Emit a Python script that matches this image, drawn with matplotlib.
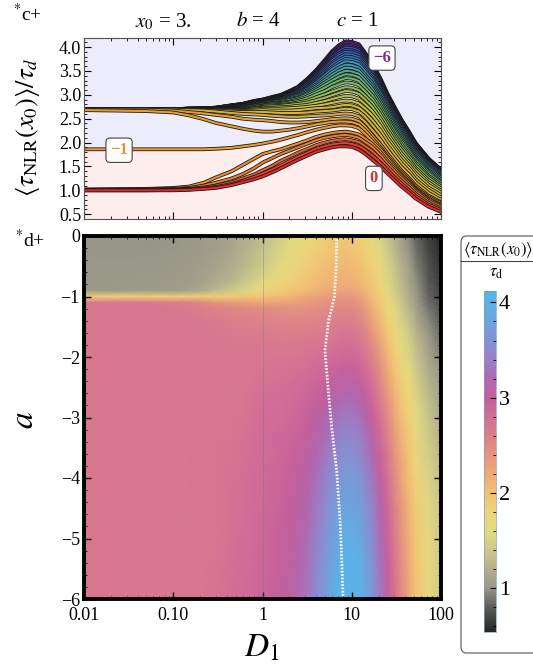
import matplotlib
matplotlib.use("Agg")
import matplotlib.pyplot as plt
import matplotlib.patheffects as pe
import numpy as np
from matplotlib.colors import LinearSegmentedColormap
from matplotlib.lines import Line2D
from matplotlib.patches import FancyBboxPatch
from matplotlib.ticker import FixedLocator, LogLocator, MultipleLocator, NullFormatter

plt.rcParams["font.family"] = ["Liberation Serif", "DejaVu Serif"]
plt.rcParams["mathtext.fontset"] = "stix"

# ---- data ----
D1_VALUES = [0.01, 0.05, 0.1, 0.15, 0.22, 0.3, 0.45, 0.6, 0.8, 1, 1.3, 1.6, 2, 2.5, 3.2, 4,
             5, 6, 7.2, 8.5, 10, 12, 14, 17, 21, 25, 30, 36, 44, 52, 72, 100]

# a between 0 and -1
A_SHALLOW = [0, -0.25, -0.5, -0.75, -0.9, -1.0]
TAU_SHALLOW = [
    [1.00, 1.00, 1.00, 1.01, 1.03, 1.05, 1.11, 1.17, 1.23, 1.29, 1.38, 1.46, 1.55, 1.64, 1.73, 1.81, 1.86, 1.90, 1.92, 1.92, 1.91, 1.85, 1.77, 1.64, 1.50, 1.36, 1.22, 1.08, 0.95, 0.83, 0.66, 0.55],
    [1.00, 1.00, 1.01, 1.02, 1.04, 1.07, 1.13, 1.20, 1.28, 1.35, 1.44, 1.52, 1.61, 1.70, 1.79, 1.87, 1.92, 1.96, 1.98, 1.99, 1.97, 1.93, 1.85, 1.73, 1.58, 1.43, 1.28, 1.14, 1.00, 0.88, 0.70, 0.59],
    [1.01, 1.01, 1.02, 1.03, 1.06, 1.10, 1.17, 1.25, 1.33, 1.42, 1.52, 1.62, 1.70, 1.79, 1.87, 1.95, 2.00, 2.04, 2.06, 2.07, 2.05, 2.01, 1.93, 1.82, 1.66, 1.50, 1.35, 1.20, 1.06, 0.93, 0.74, 0.62],
    [1.01, 1.02, 1.03, 1.05, 1.10, 1.16, 1.25, 1.34, 1.46, 1.58, 1.68, 1.76, 1.83, 1.90, 1.98, 2.05, 2.10, 2.13, 2.15, 2.16, 2.14, 2.10, 2.02, 1.91, 1.74, 1.57, 1.41, 1.26, 1.11, 0.98, 0.78, 0.66],
    [1.02, 1.03, 1.05, 1.08, 1.16, 1.27, 1.40, 1.53, 1.66, 1.76, 1.82, 1.86, 1.92, 1.98, 2.05, 2.12, 2.17, 2.20, 2.22, 2.23, 2.21, 2.17, 2.09, 1.97, 1.80, 1.62, 1.46, 1.30, 1.15, 1.01, 0.81, 0.68],
    [1.86, 1.86, 1.86, 1.86, 1.86, 1.87, 1.89, 1.92, 1.95, 1.98, 2.02, 2.06, 2.11, 2.16, 2.22, 2.27, 2.31, 2.34, 2.36, 2.36, 2.35, 2.30, 2.19, 2.03, 1.86, 1.68, 1.50, 1.33, 1.18, 1.03, 0.83, 0.70],
]

# a below -1
A_DEEP = [-1.1, -1.2, -1.4, -1.6, -1.8, -2.0, -2.2, -2.4, -2.6, -2.8, -3.0, -3.2, -3.4,
          -3.6, -3.8, -4.0, -4.2, -4.4, -4.6, -4.8, -5.0, -5.2, -5.4, -5.6, -5.8, -6.0]
TAU_DEEP = [
    [2.68, 2.66, 2.63, 2.57, 2.49, 2.41, 2.34, 2.29, 2.25, 2.23, 2.23, 2.25, 2.27, 2.30, 2.34, 2.38, 2.41, 2.43, 2.44, 2.44, 2.43, 2.38, 2.27, 2.09, 1.90, 1.72, 1.54, 1.37, 1.21, 1.06, 0.86, 0.73],
    [2.69, 2.69, 2.67, 2.64, 2.61, 2.58, 2.54, 2.50, 2.48, 2.47, 2.45, 2.43, 2.42, 2.42, 2.43, 2.45, 2.47, 2.49, 2.50, 2.51, 2.50, 2.45, 2.34, 2.15, 1.96, 1.77, 1.59, 1.41, 1.25, 1.10, 0.89, 0.75],
    [2.70, 2.70, 2.69, 2.68, 2.67, 2.65, 2.62, 2.60, 2.59, 2.58, 2.56, 2.55, 2.54, 2.54, 2.55, 2.56, 2.57, 2.58, 2.60, 2.61, 2.60, 2.55, 2.44, 2.26, 2.06, 1.86, 1.67, 1.49, 1.33, 1.17, 0.95, 0.80],
    [2.70, 2.70, 2.70, 2.69, 2.68, 2.67, 2.65, 2.64, 2.64, 2.64, 2.63, 2.62, 2.62, 2.62, 2.63, 2.65, 2.66, 2.67, 2.69, 2.71, 2.70, 2.65, 2.55, 2.37, 2.16, 1.95, 1.76, 1.57, 1.40, 1.23, 1.01, 0.85],
    [2.70, 2.70, 2.70, 2.70, 2.69, 2.68, 2.67, 2.66, 2.67, 2.68, 2.67, 2.67, 2.67, 2.68, 2.70, 2.72, 2.73, 2.74, 2.77, 2.79, 2.78, 2.73, 2.63, 2.47, 2.26, 2.04, 1.84, 1.64, 1.47, 1.30, 1.06, 0.90],
    [2.70, 2.70, 2.70, 2.70, 2.69, 2.69, 2.68, 2.68, 2.69, 2.71, 2.71, 2.71, 2.72, 2.73, 2.75, 2.77, 2.80, 2.83, 2.86, 2.88, 2.87, 2.82, 2.72, 2.57, 2.35, 2.12, 1.91, 1.71, 1.53, 1.36, 1.12, 0.95],
    [2.70, 2.70, 2.70, 2.70, 2.70, 2.69, 2.69, 2.69, 2.71, 2.73, 2.73, 2.74, 2.75, 2.77, 2.79, 2.83, 2.87, 2.91, 2.95, 2.98, 2.97, 2.92, 2.81, 2.66, 2.43, 2.20, 1.98, 1.78, 1.59, 1.42, 1.17, 0.99],
    [2.70, 2.70, 2.70, 2.70, 2.70, 2.70, 2.70, 2.70, 2.72, 2.75, 2.76, 2.77, 2.79, 2.81, 2.84, 2.89, 2.94, 2.99, 3.04, 3.08, 3.07, 3.02, 2.91, 2.75, 2.51, 2.28, 2.05, 1.85, 1.65, 1.47, 1.22, 1.04],
    [2.70, 2.70, 2.70, 2.70, 2.70, 2.70, 2.70, 2.71, 2.74, 2.77, 2.78, 2.79, 2.81, 2.84, 2.88, 2.95, 3.01, 3.07, 3.12, 3.16, 3.15, 3.10, 2.99, 2.83, 2.59, 2.36, 2.12, 1.91, 1.71, 1.53, 1.27, 1.08],
    [2.70, 2.70, 2.70, 2.70, 2.70, 2.70, 2.71, 2.72, 2.75, 2.78, 2.80, 2.81, 2.84, 2.87, 2.93, 3.01, 3.08, 3.16, 3.22, 3.26, 3.25, 3.20, 3.08, 2.91, 2.66, 2.43, 2.18, 1.97, 1.76, 1.58, 1.31, 1.12],
    [2.70, 2.70, 2.70, 2.70, 2.70, 2.70, 2.71, 2.73, 2.77, 2.80, 2.82, 2.83, 2.86, 2.90, 2.97, 3.06, 3.15, 3.23, 3.30, 3.35, 3.34, 3.29, 3.16, 2.99, 2.73, 2.50, 2.25, 2.03, 1.82, 1.63, 1.36, 1.16],
    [2.70, 2.70, 2.70, 2.70, 2.70, 2.71, 2.72, 2.74, 2.78, 2.81, 2.83, 2.85, 2.89, 2.93, 3.01, 3.10, 3.21, 3.30, 3.38, 3.43, 3.42, 3.37, 3.24, 3.06, 2.80, 2.56, 2.30, 2.08, 1.86, 1.67, 1.40, 1.19],
    [2.70, 2.70, 2.70, 2.70, 2.70, 2.71, 2.73, 2.75, 2.79, 2.82, 2.85, 2.87, 2.91, 2.95, 3.04, 3.14, 3.26, 3.36, 3.45, 3.50, 3.49, 3.44, 3.31, 3.13, 2.86, 2.62, 2.36, 2.13, 1.90, 1.71, 1.43, 1.23],
    [2.70, 2.70, 2.70, 2.70, 2.70, 2.71, 2.73, 2.76, 2.80, 2.83, 2.86, 2.88, 2.93, 2.98, 3.07, 3.18, 3.31, 3.42, 3.51, 3.57, 3.56, 3.51, 3.37, 3.19, 2.92, 2.68, 2.41, 2.18, 1.94, 1.75, 1.47, 1.26],
    [2.70, 2.70, 2.70, 2.70, 2.71, 2.71, 2.74, 2.77, 2.81, 2.84, 2.87, 2.90, 2.95, 3.00, 3.10, 3.22, 3.36, 3.48, 3.57, 3.63, 3.62, 3.57, 3.43, 3.25, 2.97, 2.73, 2.46, 2.22, 1.98, 1.79, 1.50, 1.29],
    [2.70, 2.70, 2.70, 2.70, 2.71, 2.71, 2.74, 2.77, 2.82, 2.85, 2.88, 2.91, 2.96, 3.02, 3.13, 3.26, 3.41, 3.54, 3.63, 3.70, 3.69, 3.64, 3.50, 3.31, 3.03, 2.78, 2.50, 2.26, 2.02, 1.82, 1.53, 1.31],
    [2.70, 2.70, 2.70, 2.70, 2.71, 2.71, 2.75, 2.78, 2.83, 2.86, 2.89, 2.92, 2.98, 3.04, 3.15, 3.29, 3.44, 3.58, 3.68, 3.75, 3.74, 3.69, 3.55, 3.36, 3.07, 2.82, 2.54, 2.30, 2.05, 1.85, 1.56, 1.34],
    [2.70, 2.70, 2.70, 2.70, 2.71, 2.71, 2.75, 2.78, 2.83, 2.86, 2.90, 2.93, 2.99, 3.06, 3.17, 3.32, 3.48, 3.63, 3.73, 3.80, 3.79, 3.74, 3.60, 3.41, 3.11, 2.86, 2.58, 2.33, 2.08, 1.88, 1.58, 1.36],
    [2.70, 2.70, 2.70, 2.70, 2.71, 2.72, 2.76, 2.79, 2.84, 2.87, 2.91, 2.94, 3.01, 3.08, 3.20, 3.35, 3.52, 3.67, 3.78, 3.85, 3.84, 3.79, 3.65, 3.46, 3.15, 2.89, 2.61, 2.36, 2.10, 1.90, 1.60, 1.38],
    [2.70, 2.70, 2.70, 2.71, 2.71, 2.72, 2.76, 2.79, 2.84, 2.87, 2.92, 2.95, 3.02, 3.09, 3.22, 3.38, 3.56, 3.72, 3.83, 3.90, 3.89, 3.84, 3.69, 3.50, 3.19, 2.92, 2.64, 2.39, 2.13, 1.92, 1.62, 1.39],
    [2.70, 2.70, 2.70, 2.71, 2.71, 2.72, 2.77, 2.80, 2.85, 2.88, 2.93, 2.96, 3.03, 3.11, 3.25, 3.41, 3.59, 3.75, 3.87, 3.94, 3.93, 3.88, 3.73, 3.54, 3.22, 2.95, 2.67, 2.41, 2.15, 1.94, 1.63, 1.40],
    [2.70, 2.70, 2.70, 2.71, 2.71, 2.72, 2.77, 2.80, 2.85, 2.88, 2.93, 2.97, 3.04, 3.12, 3.26, 3.43, 3.62, 3.79, 3.91, 3.99, 3.98, 3.93, 3.77, 3.57, 3.25, 2.97, 2.69, 2.43, 2.17, 1.95, 1.64, 1.41],
    [2.70, 2.70, 2.70, 2.71, 2.72, 2.73, 2.77, 2.80, 2.86, 2.89, 2.94, 2.98, 3.05, 3.14, 3.28, 3.46, 3.65, 3.82, 3.94, 4.02, 4.01, 3.96, 3.80, 3.60, 3.28, 2.99, 2.71, 2.45, 2.19, 1.96, 1.65, 1.42],
    [2.70, 2.70, 2.70, 2.71, 2.72, 2.73, 2.78, 2.81, 2.86, 2.89, 2.94, 2.98, 3.06, 3.15, 3.30, 3.48, 3.67, 3.85, 3.97, 4.05, 4.04, 3.99, 3.83, 3.62, 3.30, 3.01, 2.73, 2.46, 2.20, 1.97, 1.66, 1.42],
    [2.70, 2.70, 2.70, 2.71, 2.72, 2.73, 2.78, 2.81, 2.87, 2.90, 2.95, 2.99, 3.07, 3.16, 3.32, 3.50, 3.70, 3.88, 4.01, 4.09, 4.08, 4.03, 3.86, 3.64, 3.32, 3.02, 2.74, 2.47, 2.21, 1.98, 1.66, 1.43],
    [2.70, 2.70, 2.70, 2.71, 2.72, 2.73, 2.78, 2.81, 2.87, 2.90, 2.96, 3.00, 3.08, 3.17, 3.34, 3.52, 3.73, 3.91, 4.04, 4.12, 4.11, 4.06, 3.89, 3.66, 3.34, 3.03, 2.75, 2.48, 2.22, 1.99, 1.67, 1.43],
]

# position of the maximum (white dotted line)
PEAK_A = [0, -0.5, -1.0, -1.2, -1.4, -1.9, -2.6, -3.2, -3.9, -4.7, -5.3, -6.0]
PEAK_D1 = [6.8, 6.7, 6.4, 5.95, 5.5, 5.0, 5.5, 6.0, 6.8, 7.4, 7.7, 8.0]

A_ALL = np.array(A_SHALLOW + A_DEEP)
TAU = np.array(TAU_SHALLOW + TAU_DEEP)
D1 = np.array(D1_VALUES)

# ---- colour maps ----
rainbow = LinearSegmentedColormap.from_list(
    "mma_rainbow",
    ["#6a1f86", "#3b4fbf", "#3c8fb8", "#6db46c", "#c9c23e", "#eb9a32", "#e0282a"],
)
cb_vals = [0.54, 0.8, 1.0, 1.1, 1.35, 1.6, 1.8, 2.0, 2.2, 2.5, 2.8, 3.0, 3.2, 3.4, 3.7, 4.0, 4.12]
cb_cols = ["#262626", "#5e5e5c", "#9a9888", "#a6a38c", "#c8c48c", "#e2da82", "#eed478",
           "#f2c074", "#eeaa78", "#e08a84", "#d26e96", "#c4609c", "#b068b0", "#9a80c8",
           "#7a9ad8", "#5cb2e8", "#58b4e8"]
vmin, vmax = 0.54, 4.12
dens_cmap = LinearSegmentedColormap.from_list(
    "dens", [((v - vmin) / (vmax - vmin), c) for v, c in zip(cb_vals, cb_cols)]
)

W, H = 533, 666
fig = plt.figure(figsize=(W / 100, H / 100), dpi=100)


def fx(px):
    return px / W


def fy(py):
    return 1 - py / H


# ---- top panel ----
ax1 = fig.add_axes([fx(84), fy(219), fx(357), 181 / H])
ax1.set_facecolor("#ececfa")
ax1.set_xscale("log")
ax1.set_xlim(0.01, 100)
ax1.set_ylim(0.4, 4.19)
ax1.fill_between(D1, 0, TAU[A_ALL == -1.0][0], color="#fdeded", zorder=0, lw=0)

order = np.argsort(A_ALL)  # most negative first, a = 0 drawn last
for i in order:
    a = A_ALL[i]
    ax1.plot(D1, TAU[i], color=rainbow((a + 6) / 6), lw=1.5, zorder=2,
             solid_joinstyle="round",
             path_effects=[pe.Stroke(linewidth=2.7, foreground="#1a1a1a"), pe.Normal()])

box = dict(boxstyle="round,pad=0.25", fc="white", ec="#444444", lw=0.8)
ax1.text(21.8, 3.77, "\u22126", color="#7b2d8e", fontsize=12, fontweight="bold",
         ha="center", va="center", bbox=box, zorder=5)
ax1.text(0.0247, 1.84, "\u22121", color="#e8922e", fontsize=12, fontweight="bold",
         ha="center", va="center", bbox=box, zorder=5)
ax1.text(17.7, 1.25, "0", color="#e0302a", fontsize=12, fontweight="bold",
         ha="center", va="center", bbox=box, zorder=5)

ax1.yaxis.set_major_locator(FixedLocator([0.5, 1.0, 1.5, 2.0, 2.5, 3.0, 3.5, 4.0]))
ax1.yaxis.set_minor_locator(MultipleLocator(0.1))
ax1.set_yticklabels(["0.5", "1.0", "1.5", "2.0", "2.5", "3.0", "3.5", "4.0"])
ax1.xaxis.set_major_locator(FixedLocator([0.01, 0.1, 1, 10, 100]))
ax1.xaxis.set_minor_locator(LogLocator(base=10, subs=np.arange(2, 10)))
ax1.xaxis.set_major_formatter(NullFormatter())
ax1.xaxis.set_minor_formatter(NullFormatter())
ax1.tick_params(which="both", direction="in", top=True, right=True, labelsize=13, pad=2)
ax1.tick_params(which="major", length=5)
ax1.tick_params(which="minor", length=2.5)
for s in ax1.spines.values():
    s.set_color("#555555")
    s.set_linewidth(0.8)

fig.text(fx(28), fy(127), r"$\langle\tau_{\mathrm{NLR}}(x_0)\rangle/\tau_d$", rotation=90,
         fontsize=19, ha="center", va="center")
fig.text(fx(163), fy(22), r"$x_0$ = 3.", fontsize=15, ha="center", va="center")
fig.text(fx(258), fy(22), r"$b$ = 4", fontsize=15, ha="center", va="center")
fig.text(fx(357), fy(22), r"$c$ = 1", fontsize=15, ha="center", va="center")
fig.text(fx(13), fy(14), r"$^{*}$c+", fontsize=14, ha="left", va="center")
fig.text(fx(15), fy(240), r"$^{*}$d+", fontsize=14, ha="left", va="center")

# ---- bottom panel ----
ax2 = fig.add_axes([fx(84), fy(599), fx(357), 363 / H])
ax2.set_xscale("log")
mesh = ax2.pcolormesh(D1, A_ALL, TAU, shading="gouraud", cmap=dens_cmap, vmin=vmin, vmax=vmax)
ax2.axvline(1, color="#777777", lw=0.5, alpha=0.5)
ax2.plot(PEAK_D1, PEAK_A, color="white", lw=2.0, linestyle=(0, (0.6, 0.6)))
ax2.set_xlim(0.01, 100)
ax2.set_ylim(-6, 0)
ax2.xaxis.set_major_locator(FixedLocator([0.01, 0.1, 1, 10, 100]))
ax2.set_xticklabels(["0.01", "0.10", "1", "10", "100"])
ax2.xaxis.set_minor_locator(LogLocator(base=10, subs=np.arange(2, 10)))
ax2.xaxis.set_minor_formatter(NullFormatter())
ax2.yaxis.set_major_locator(FixedLocator([0, -1, -2, -3, -4, -5, -6]))
ax2.set_yticklabels(["0", "\u22121", "\u22122", "\u22123", "\u22124", "\u22125", "\u22126"])
ax2.yaxis.set_minor_locator(MultipleLocator(0.2))
ax2.tick_params(which="both", direction="in", top=True, right=True, labelsize=13)
ax2.tick_params(axis="x", pad=6)
ax2.tick_params(axis="y", pad=3)
ax2.tick_params(which="major", length=5, width=1)
ax2.tick_params(which="minor", length=2.5, width=0.6)
for s in ax2.spines.values():
    s.set_linewidth(2.8)

fig.text(fx(25), fy(420), r"$a$", rotation=90, fontsize=24, ha="center", va="center")
fig.text(fx(262), fy(648), r"$D_1$", fontsize=24, ha="center", va="center")

# ---- colour bar ----
frame = FancyBboxPatch((fx(461), fy(653)), fx(100), 417 / H,
                       boxstyle="round,pad=0,rounding_size=0.01", transform=fig.transFigure,
                       fc="white", ec="#555555", lw=0.8, zorder=-1)
fig.add_artist(frame)
cax = fig.add_axes([fx(484), fy(632), fx(12), 341 / H])
cb = fig.colorbar(mesh, cax=cax)
cb.set_ticks([1, 2, 3, 4])
cb.ax.yaxis.set_minor_locator(MultipleLocator(0.2))
cb.ax.tick_params(which="both", direction="in", labelsize=16, pad=2)
cb.ax.tick_params(which="major", length=4)
cb.ax.tick_params(which="minor", length=2)
cb.outline.set_edgecolor("#7f9fbf")
cb.outline.set_linewidth(0.5)

fig.text(fx(463), fy(250), r"$\langle\tau_{\mathrm{NLR}}(x_0)\rangle$", fontsize=12,
         ha="left", va="center")
fig.add_artist(Line2D([fx(461), 1.0], [fy(261), fy(261)], transform=fig.transFigure,
                      color="#444444", lw=0.8))
fig.text(fx(496), fy(273), r"$\tau_{\mathrm{d}}$", fontsize=12, ha="center", va="center")

fig.savefig("out.png", dpi=100)
